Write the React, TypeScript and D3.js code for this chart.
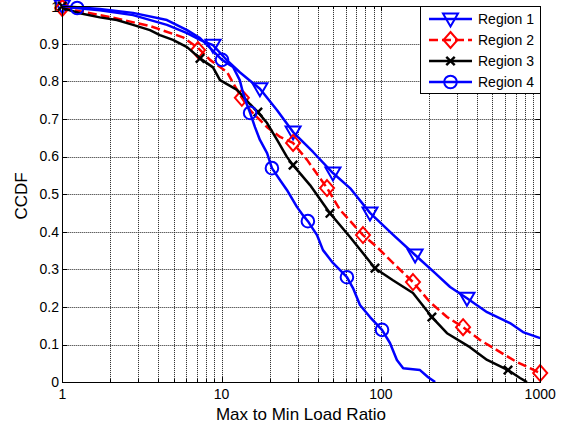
import React from "react";
import * as d3 from "d3";

const W = 572;
const H = 429;

const region1X = [1, 1.72, 2.78, 4.54, 6.07, 7.32, 8.83, 10.8, 13.0, 17.4, 22.3, 28.1, 37.5, 50.0, 64.0, 85.4, 119, 164, 219, 272, 347, 464, 646, 780, 1000];
const region1Y = [0.998, 0.989, 0.976, 0.95, 0.928, 0.91, 0.896, 0.856, 0.824, 0.78, 0.723, 0.665, 0.612, 0.556, 0.516, 0.45, 0.392, 0.338, 0.29, 0.253, 0.223, 0.186, 0.157, 0.133, 0.117];
const region1MX = [1, 8.83, 17.4, 28.1, 50, 85.4, 164, 347];
const region1MY = [1.0, 0.896, 0.78, 0.665, 0.556, 0.45, 0.338, 0.223];

const region2X = [1, 1.99, 3.55, 5.72, 7.11, 8.46, 10.8, 12.5, 13.4, 15.1, 19.3, 23.3, 28.1, 34.4, 45.9, 55.4, 77.2, 94.6, 119, 159, 203, 260, 328, 419, 535, 715, 863, 1000];
const region2Y = [0.995, 0.971, 0.947, 0.917, 0.889, 0.857, 0.825, 0.777, 0.756, 0.723, 0.678, 0.652, 0.636, 0.591, 0.516, 0.458, 0.391, 0.359, 0.317, 0.266, 0.213, 0.173, 0.146, 0.112, 0.085, 0.053, 0.037, 0.024];
const region2MX = [1, 7.11, 13.4, 28.1, 45.9, 77.2, 159, 328, 1000];
const region2MY = [0.995, 0.883, 0.756, 0.636, 0.516, 0.391, 0.266, 0.146, 0.024];

const region3X = [1, 1.29, 1.72, 2.2, 2.78, 3.55, 4.1, 4.95, 6.07, 7.32, 8.83, 9.77, 12.5, 15.1, 16.9, 19.3, 22.3, 25.7, 28.1, 35.9, 47.9, 64.0, 91.8, 119, 159, 209, 260, 362, 464, 628, 747, 826];
const region3Y = [0.995, 0.981, 0.97, 0.963, 0.95, 0.936, 0.923, 0.91, 0.891, 0.861, 0.837, 0.803, 0.777, 0.739, 0.718, 0.689, 0.644, 0.599, 0.577, 0.524, 0.449, 0.386, 0.303, 0.271, 0.237, 0.173, 0.13, 0.093, 0.059, 0.032, 0.011, 0];
const region3MX = [1, 7.32, 16.9, 28.1, 47.9, 91.8, 209, 628];
const region3MY = [1.0, 0.861, 0.718, 0.577, 0.449, 0.303, 0.173, 0.032];

const region4X = [1, 1.24, 1.72, 2.78, 4.54, 6.07, 7.32, 8.46, 10.06, 11.8, 13.0, 13.6, 14.4, 15.1, 16.2, 17.4, 19.3, 20.7, 23.3, 25.7, 29.7, 32.4, 34.8, 39.7, 43.3, 50.0, 61.2, 66.8, 73.9, 85.4, 101.6, 114, 126, 138, 176, 198, 219];
const region4Y = [1.0, 0.997, 0.992, 0.982, 0.963, 0.936, 0.915, 0.889, 0.857, 0.838, 0.803, 0.771, 0.739, 0.716, 0.678, 0.644, 0.609, 0.569, 0.537, 0.511, 0.466, 0.444, 0.428, 0.391, 0.351, 0.317, 0.279, 0.25, 0.205, 0.173, 0.139, 0.104, 0.059, 0.037, 0.032, 0.013, 0];
const region4MX = [1.24, 10.06, 15.1, 20.7, 34.8, 61.2, 101.6];
const region4MY = [0.995, 0.857, 0.716, 0.569, 0.428, 0.279, 0.139];

const seriesNames = ["Region 1", "Region 2", "Region 3", "Region 4"];
const xTickLabels = ["1", "10", "100", "1000"];
const yTickValues = [0, 0.1, 0.2, 0.3, 0.4, 0.5, 0.6, 0.7, 0.8, 0.9, 1];
const xLabel = "Max to Min Load Ratio";
const yLabel = "CCDF";

const series = [
  { name: seriesNames[0], xs: region1X, ys: region1Y, mx: region1MX, my: region1MY, color: "#0000ff", dash: "", marker: "tri" },
  { name: seriesNames[1], xs: region2X, ys: region2Y, mx: region2MX, my: region2MY, color: "#ff0000", dash: "9,4", marker: "diamond" },
  { name: seriesNames[2], xs: region3X, ys: region3Y, mx: region3MX, my: region3MY, color: "#000000", dash: "", marker: "x" },
  { name: seriesNames[3], xs: region4X, ys: region4Y, mx: region4MX, my: region4MY, color: "#0000ff", dash: "", marker: "circle" },
];

const L = 62.3, R = 540.2, T = 6.1, B = 382.1;

function Marker({ type, cx, cy, color }: { type: string; cx: number; cy: number; color: string }) {
  if (type === "tri") {
    return <polygon points={`${cx - 7.5},${cy - 5.5} ${cx + 7.5},${cy - 5.5} ${cx},${cy + 7.5}`} fill="none" stroke={color} strokeWidth={2} strokeLinejoin="miter" />;
  }
  if (type === "diamond") {
    return <polygon points={`${cx},${cy - 8} ${cx + 7},${cy} ${cx},${cy + 8} ${cx - 7},${cy}`} fill="none" stroke={color} strokeWidth={2} />;
  }
  if (type === "circle") {
    return <circle cx={cx} cy={cy} r={6.3} fill="none" stroke={color} strokeWidth={2} />;
  }
  const s = 4.2;
  return (
    <g stroke={color} strokeWidth={2.4}>
      <line x1={cx - s} y1={cy - s} x2={cx + s} y2={cy + s} />
      <line x1={cx - s} y1={cy + s} x2={cx + s} y2={cy - s} />
    </g>
  );
}

export default function App() {
  const x = d3.scaleLog().domain([1, 1000]).range([L, R]);
  const y = d3.scaleLinear().domain([0, 1]).range([B, T]);
  const allX = x.ticks();
  const majorX = [1, 10, 100, 1000];
  const minorX = allX.filter((v) => !majorX.some((m) => Math.abs(m - v) < 1e-9));
  const line = d3.line<[number, number]>().x((d) => x(d[0])).y((d) => y(d[1]));
  const px = (v: number) => Math.round(v) + 0.5;
  const font = "Arial, 'Liberation Sans', Helvetica, sans-serif";

  return (
    <svg width={W} height={H} style={{ position: "absolute", left: 0, top: 0, background: "#fff" }} fontFamily={font}>
      <rect x={0} y={0} width={W} height={H} fill="#fff" />
      {/* grid */}
      <g stroke="#222" strokeWidth={1} strokeDasharray="1,1">
        {allX.filter((v) => v > 1 && v < 1000).map((v, i) => (
          <line key={"gx" + i} x1={px(x(v))} x2={px(x(v))} y1={T} y2={B} />
        ))}
        {yTickValues.filter((v) => v > 0 && v < 1).map((v, i) => (
          <line key={"gy" + i} x1={L} x2={R} y1={px(y(v))} y2={px(y(v))} />
        ))}
      </g>
      {/* ticks */}
      <g stroke="#000" strokeWidth={1}>
        {yTickValues.map((v, i) => (
          <g key={"ty" + i}>
            <line x1={L} x2={L + 5} y1={px(y(v))} y2={px(y(v))} />
            <line x1={R - 5} x2={R} y1={px(y(v))} y2={px(y(v))} />
          </g>
        ))}
        {majorX.map((v, i) => (
          <g key={"tx" + i}>
            <line x1={px(x(v))} x2={px(x(v))} y1={B} y2={B - 5} />
            <line x1={px(x(v))} x2={px(x(v))} y1={T} y2={T + 5} />
          </g>
        ))}
        {minorX.map((v, i) => (
          <g key={"tm" + i}>
            <line x1={px(x(v))} x2={px(x(v))} y1={B} y2={B - 3} />
            <line x1={px(x(v))} x2={px(x(v))} y1={T} y2={T + 3} />
          </g>
        ))}
      </g>
      {/* series */}
      {series.map((s, si) => {
        const pts = s.xs.map((v, i) => [v, s.ys[i]] as [number, number]);
        return (
          <g key={"s" + si}>
            <path d={line(pts) || ""} fill="none" stroke={s.color} strokeWidth={2.5} strokeDasharray={s.dash || undefined} strokeLinejoin="round" />
            {s.mx.map((v, i) => (
              <Marker key={i} type={s.marker} cx={x(v)} cy={y(s.my[i])} color={s.color} />
            ))}
          </g>
        );
      })}
      {/* box */}
      <rect x={px(L)} y={px(T)} width={Math.round(R) - Math.round(L)} height={Math.round(B) - Math.round(T)} fill="none" stroke="#000" strokeWidth={1} />
      {/* tick labels */}
      <g fontSize={14} fill="#000">
        {yTickValues.map((v, i) => (
          <text key={"ly" + i} x={59} y={Math.max(y(v), 7)} dy="0.35em" textAnchor="end">
            {d3.format("~g")(v)}
          </text>
        ))}
        {majorX.map((v, i) => (
          <text key={"lx" + i} x={x(v)} y={399} textAnchor="middle">
            {xTickLabels[i]}
          </text>
        ))}
      </g>
      <text x={301} y={420} textAnchor="middle" fontSize={17}>{xLabel}</text>
      <text transform={`translate(27,196) rotate(-90)`} textAnchor="middle" fontSize={17}>{yLabel}</text>
      {/* legend */}
      <g>
        <rect x={420.5} y={6.5} width={120} height={87} fill="#fff" stroke="#000" strokeWidth={1} />
        {series.map((s, i) => {
          const ry = 19 + i * 21;
          return (
            <g key={"lg" + i}>
              <line x1={429} x2={472} y1={ry} y2={ry} stroke={s.color} strokeWidth={2.5} strokeDasharray={s.dash || undefined} />
              <Marker type={s.marker} cx={450.5} cy={ry} color={s.color} />
              <text x={478} y={ry} dy="0.35em" fontSize={14} fill="#000">{s.name}</text>
            </g>
          );
        })}
      </g>
    </svg>
  );
}
